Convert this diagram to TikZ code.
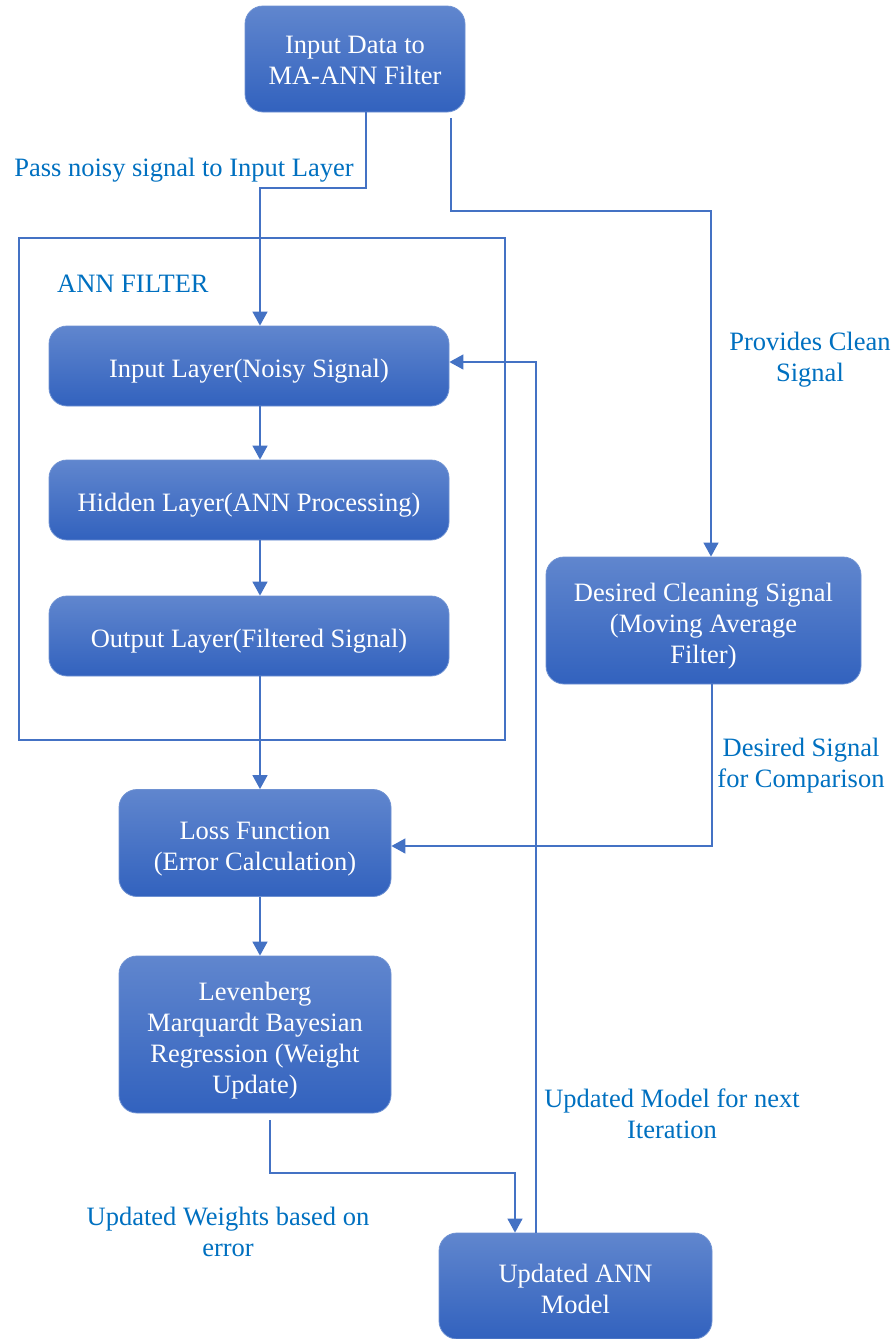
\documentclass[tikz,border=0pt]{standalone}
\usepackage{fontspec}
\setmainfont{Liberation Serif}
\usetikzlibrary{arrows.meta}
\definecolor{lineblue}{RGB}{68,114,196}
\definecolor{labblue}{RGB}{0,112,192}
\definecolor{boxtop}{RGB}{96,134,206}
\definecolor{boxbot}{RGB}{50,98,190}
\definecolor{boxedge}{RGB}{110,145,210}
\newcommand\toppad[1]{\rule{0pt}{#1}}
\begin{document}
\begin{tikzpicture}[x=1pt,y=-1pt,
  box/.style={rectangle,rounded corners=18pt,top color=boxtop,bottom color=boxbot,draw=boxedge,line width=0.8pt,
    text=white,align=center,font=\fontsize{26.5}{31}\selectfont,inner sep=0pt},
  lab/.style={text=labblue,align=center,font=\fontsize{26.5}{31}\selectfont,inner sep=0pt},
  conn/.style={draw=lineblue,line width=1.4pt},
  arr/.style={conn,-{Triangle[length=14pt,width=15pt]}}]
\useasboundingbox (0,0) rectangle (894,1339);
% frame
\draw[draw=lineblue,line width=1.2pt] (19,238) rectangle (505,740);
\node[lab,anchor=west] (annf) at (57,284) {ANN FILTER};
% boxes
\node[box,minimum width=220pt,minimum height=106pt] (inp) at (355,59) {\toppad{21pt}Input Data to\\MA-ANN Filter};
\node[box,minimum width=400pt,minimum height=80pt] (il) at (249,366) {\toppad{28pt}Input Layer(Noisy Signal)};
\node[box,minimum width=400pt,minimum height=80pt] (hl) at (249,500) {\toppad{28pt}Hidden Layer(ANN Processing)};
\node[box,minimum width=400pt,minimum height=80pt] (ol) at (249,636) {\toppad{28pt}Output Layer(Filtered Signal)};
\node[box,minimum width=315pt,minimum height=127pt] (ds) at (703.5,620.5) {\toppad{30pt}Desired Cleaning Signal\\(Moving Average\\Filter)};
\node[box,minimum width=272pt,minimum height=107pt] (lf) at (255,843) {\toppad{30pt}Loss Function\\(Error Calculation)};
\node[box,minimum width=272pt,minimum height=157pt] (lm) at (255,1034.5) {\toppad{31pt}Levenberg\\Marquardt Bayesian\\Regression (Weight\\Update)};
\node[box,minimum width=273pt,minimum height=106pt] (ua) at (575.5,1286) {\toppad{25pt}Updated ANN\\Model};
% coordinates
\coordinate (a1) at (366,188);
\coordinate (a2) at (260,188);
\coordinate (b1) at (451,211);
\coordinate (b2) at (711,211);
\coordinate (c1) at (712,846);
\coordinate (d1) at (270,1173);
\coordinate (d2) at (515,1173);
\coordinate (e1) at (536,362);
% connectors
\draw[arr] (inp.south -| a1) -- (a1) -- (a2) -- (il.north -| a2);
\draw[arr] (451,118) -- (b1) -- (b2) -- (ds.north -| b2);
\draw[arr] (il.south -| a2) -- (hl.north -| a2);
\draw[arr] (hl.south -| a2) -- (ol.north -| a2);
\draw[arr] (ol.south -| a2) -- (lf.north -| a2);
\draw[arr] (ds.south -| c1) -- (c1) -- (lf.east |- c1);
\draw[arr] (lf.south -| a2) -- (lm.north -| a2);
\draw[arr] (270,1120) -- (d1) -- (d2) -- (ua.north -| d2);
\draw[arr] (ua.north -| e1) -- (e1) -- (il.east |- e1);
% labels
\node[lab] (l1) at (184,170) {Pass noisy signal to Input Layer};
\node[lab] (l2) at (810,360) {Provides Clean\\Signal};
\node[lab] (l3) at (801,766) {Desired Signal\\for Comparison};
\node[lab] (l4) at (228,1232) {Updated Weights based on\\error};
\node[lab] (l5) at (672,1114) {Updated Model for next\\Iteration};
\end{tikzpicture}
\end{document}
